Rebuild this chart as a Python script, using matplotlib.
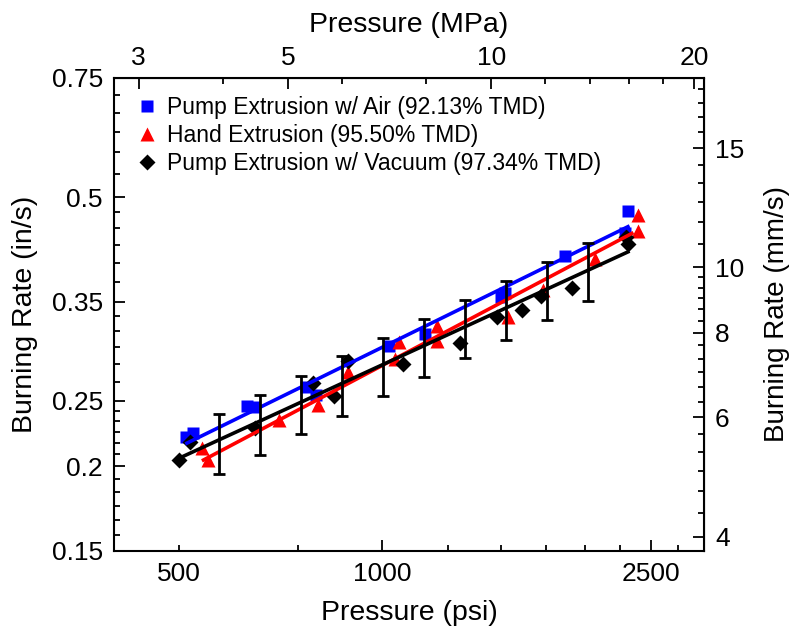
import numpy as np
import matplotlib
matplotlib.use("Agg")
import matplotlib.pyplot as plt
from matplotlib.ticker import FixedLocator, FixedFormatter, NullFormatter, FuncFormatter

plt.rcParams['font.family'] = ['Liberation Sans', 'DejaVu Sans']

# ---------------- data ----------------
air_p = [511, 523, 629, 645, 771, 797, 1022, 1157, 1498, 1522, 1864, 2291, 2314]
air_r = [0.221, 0.224, 0.246, 0.245, 0.262, 0.255, 0.301, 0.314, 0.356, 0.361, 0.409, 0.443, 0.477]

hand_p = [540, 552, 703, 804, 889, 1046, 1060, 1207, 1207, 1538, 1731, 2065, 2391, 2395]
hand_r = [0.213, 0.2045, 0.234, 0.2465, 0.276, 0.288, 0.305, 0.323, 0.306, 0.333, 0.364, 0.405, 0.471, 0.446]

vac_p = [500, 519, 648, 790, 849, 890, 1074, 1304, 1478, 1614, 1721, 1910, 2299, 2313]
vac_r = [0.2045, 0.217, 0.228, 0.266, 0.254, 0.286, 0.283, 0.304, 0.332, 0.341, 0.357, 0.367, 0.437, 0.426]

# power-law fits r = r1000 * (P/1000)^n, drawn over [p_start, p_end]
fit_r1000 = {'air': 0.300, 'hand': 0.282, 'vac': 0.2826}
fit_n = {'air': 0.489, 'hand': 0.527, 'vac': 0.458}
fit_range = {'air': (513, 2314), 'hand': (543, 2345), 'vac': (500, 2314)}

# error bars (psi, lower in/s, upper in/s)
bar_p = [573, 659, 758, 871, 1001, 1153, 1326, 1524, 1753, 2018]
bar_lo = [0.195, 0.208, 0.223, 0.2375, 0.254, 0.271, 0.289, 0.308, 0.329, 0.351]
bar_hi = [0.239, 0.255, 0.272, 0.291, 0.310, 0.330, 0.352, 0.376, 0.4015, 0.428]

labels = ['Pump Extrusion w/ Air (92.13% TMD)',
          'Hand Extrusion (95.50% TMD)',
          'Pump Extrusion w/ Vacuum (97.34% TMD)']

left_major = [0.15, 0.2, 0.25, 0.35, 0.5, 0.75]
right_major = [4, 6, 8, 10, 15, 20]
bottom_major = [1000, 2500]
bottom_minor = [500, 750, 1250, 1500, 1750, 2000, 2250, 2750]
top_major = [3, 5, 10, 20]
top_minor = [4, 6, 8, 12, 14, 16, 18]

PSI_TO_MPA = 0.00689476
IN_TO_MM = 25.4

# ---------------- figure ----------------
fig = plt.figure(figsize=(7.94, 6.34), dpi=100)
ax = fig.add_axes([0.1436, 0.131, 0.7430, 0.746])
ax.set_xscale('log')
ax.set_yscale('log')
ax.set_xlim(400, 3000)
ax.set_ylim(0.15, 0.75)

ms = 8.5
ax.plot(air_p, air_r, 's', color='#0000ff', ms=ms * 0.95, mec='none', label=labels[0], zorder=3)
ax.plot(hand_p, hand_r, '^', color='#ff0000', ms=ms * 1.15, mec='none', label=labels[1], zorder=3)
ax.plot(vac_p, vac_r, 'D', color='black', ms=ms * 0.92, mec='none', label=labels[2], zorder=4)

cols = {'air': '#0000ff', 'hand': '#ff0000', 'vac': 'black'}
for k in ['air', 'hand', 'vac']:
    p0, p1 = fit_range[k]
    pp = np.array([p0, p1], dtype=float)
    rr = fit_r1000[k] * (pp / 1000.0) ** fit_n[k]
    ax.plot(pp, rr, '-', color=cols[k], lw=2.6, zorder=5)

bar_lo_a = np.array(bar_lo)
bar_hi_a = np.array(bar_hi)
mid = np.sqrt(bar_lo_a * bar_hi_a)
ax.errorbar(bar_p, mid, yerr=[mid - bar_lo_a, bar_hi_a - mid], fmt='none',
            ecolor='black', elinewidth=2.0, capsize=4.5, capthick=2.0, zorder=6)

# ticks bottom
ax.xaxis.set_major_locator(FixedLocator(bottom_major))
ax.xaxis.set_major_formatter(FixedFormatter([str(v) for v in bottom_major]))
ax.xaxis.set_minor_locator(FixedLocator(bottom_minor))
ax.xaxis.set_minor_formatter(FuncFormatter(lambda v, pos: '500' if abs(v - 500) < 1 else ''))

# ticks left
lminor = []
for a, b in zip(left_major[:-1], left_major[1:]):
    lminor += list(np.linspace(a, b, 7)[1:-1])
ax.yaxis.set_major_locator(FixedLocator(left_major))
ax.yaxis.set_major_formatter(FixedFormatter([f'{v:g}' for v in left_major]))
ax.yaxis.set_minor_locator(FixedLocator(lminor))
ax.yaxis.set_minor_formatter(NullFormatter())

tick_fs = 19
ax.tick_params(which='both', direction='in', width=1.3, labelsize=tick_fs, top=False, right=False)
ax.tick_params(which='major', length=8, pad=8)
ax.tick_params(which='minor', length=4, pad=8)
for s in ax.spines.values():
    s.set_linewidth(1.5)

# secondary axes
secx = ax.secondary_xaxis('top', functions=(lambda p: p * PSI_TO_MPA, lambda m: m / PSI_TO_MPA))
secx.xaxis.set_major_locator(FixedLocator(top_major))
secx.xaxis.set_major_formatter(FixedFormatter([str(v) for v in top_major]))
secx.xaxis.set_minor_locator(FixedLocator(top_minor))
secx.xaxis.set_minor_formatter(NullFormatter())
secx.tick_params(which='both', direction='in', width=1.3, labelsize=tick_fs)
secx.tick_params(which='major', length=8, pad=6)
secx.tick_params(which='minor', length=4)
secx.set_xlabel('Pressure (MPa)', fontsize=20.5, labelpad=10)

secy = ax.secondary_yaxis('right', functions=(lambda r: r * IN_TO_MM, lambda m: m / IN_TO_MM))
rminor = []
for a, b in zip(right_major[:-1], right_major[1:]):
    rminor += list(np.linspace(a, b, 7)[1:-1])
secy.yaxis.set_major_locator(FixedLocator(right_major[:-1]))
secy.yaxis.set_major_formatter(FixedFormatter([str(v) for v in right_major[:-1]]))
secy.yaxis.set_minor_locator(FixedLocator(rminor))
secy.yaxis.set_minor_formatter(NullFormatter())
secy.tick_params(which='both', direction='in', width=1.3, labelsize=tick_fs)
secy.tick_params(which='major', length=8, pad=8)
secy.tick_params(which='minor', length=4)
secy.set_ylabel('Burning Rate (mm/s)', fontsize=20, labelpad=14)

ax.set_xlabel('Pressure (psi)', fontsize=20.5, labelpad=10)
ax.set_ylabel('Burning Rate (in/s)', fontsize=20.5, labelpad=10)

leg = ax.legend(loc='upper left', frameon=False, fontsize=16.5, handlelength=0.8,
                handletextpad=0.45, labelspacing=0.22, borderaxespad=0.4,
                bbox_to_anchor=(0.01, 1.0))

fig.savefig('out.png', dpi=100)
